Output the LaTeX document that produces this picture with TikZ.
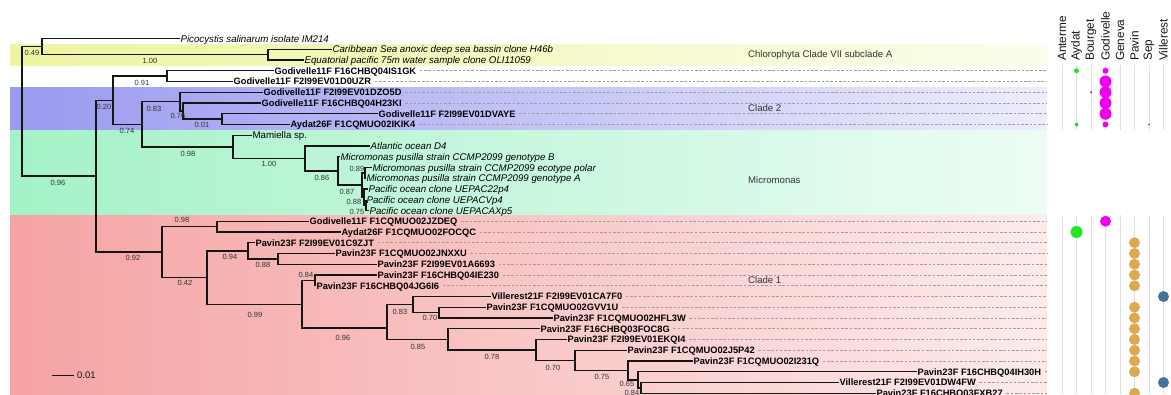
\documentclass[tikz,border=0pt]{standalone}
\usepackage{fontspec}
\setmainfont{Liberation Sans}
\usepackage{tikz}
\usetikzlibrary{calc}

\definecolor{treeink}{HTML}{151515}
\definecolor{suppgray}{HTML}{333333}
\definecolor{chloroband}{HTML}{EEF5A0}
\definecolor{clade2band}{HTML}{9A9AF0}
\definecolor{micromband}{HTML}{A4F2C8}
\definecolor{clade1band}{HTML}{F5A3A3}
\definecolor{aydatgreen}{HTML}{22E622}
\definecolor{godimagenta}{HTML}{F000F0}
\definecolor{pavingold}{HTML}{DCA850}
\definecolor{villblue}{HTML}{42729E}
\definecolor{bourgnavy}{HTML}{2A2A8C}

\newcommand{\envfont}{\fontsize{9.3}{10}\selectfont\bfseries}
\newcommand{\reffont}{\fontsize{9.7}{10}\selectfont\itshape}
\newcommand{\plainfont}{\fontsize{9.7}{10}\selectfont}

\begin{document}
\begin{tikzpicture}[
    x=1pt, y=-1pt,
    branch/.style={draw=treeink, line width=1.4pt},
    envleaf/.style={anchor=west, inner xsep=0.4pt, inner ysep=0pt,
                text height=6.7pt, text depth=0pt, text=black, font=\envfont},
    refleaf/.style={anchor=west, inner xsep=0.4pt, inner ysep=0pt,
                text height=7pt, text depth=0pt, text=black, font=\reffont},
    supp/.style={inner sep=0pt, text=suppgray, font=\fontsize{7.5}{8}\selectfont},
    guide/.style={draw=gray!75, line width=0.6pt, dash pattern=on 2.6pt off 1.7pt,
                shorten <=3pt},
    cladename/.style={anchor=west, inner sep=0pt, text=suppgray,
                font=\fontsize{9.6}{10}\selectfont},
    lake/.style={rotate=90, anchor=west, inner sep=0pt, text=treeink,
                font=\fontsize{11.8}{12}\selectfont},
    colline/.style={draw=black!12, line width=0.6pt},
    dot/.style={circle, draw=none, inner sep=0pt}
]
\useasboundingbox (0,0) rectangle (1171,394);

% Clade bands
\shade[left color=chloroband, right color=chloroband!20] (10,44) rectangle (1047,65);
\shade[left color=clade2band, right color=clade2band!18] (10,87) rectangle (1047,130);
\shade[left color=micromband, right color=micromband!20] (10,130) rectangle (1047,215);
\shade[left color=clade1band, right color=clade1band!22] (10,215) rectangle (1047,394);

\coordinate (dashend) at (1047,0);

% Leaves
\node[refleaf] (pico) at (180,38.5) {Picocystis salinarum isolate IM214};
\node[refleaf] (carib) at (332,49.25) {Caribbean Sea anoxic deep sea bassin clone H46b};
\node[refleaf] (equat) at (304,60) {Equatorial pacific 75m water sample clone OLI11059};
\node[envleaf] (IS1GK) at (274,70.75) {Godivelle11F F16CHBQ04IS1GK};
\node[envleaf] (D0UZR) at (233,81.5) {Godivelle11F F2I99EV01D0UZR};
\node[envleaf] (DZO5D) at (263,92.25) {Godivelle11F F2I99EV01DZO5D};
\node[envleaf] (H23KI) at (261,103) {Godivelle11F F16CHBQ04H23KI};
\node[envleaf] (DVAYE) at (378,113.75) {Godivelle11F F2I99EV01DVAYE};
\node[envleaf] (IKIK4) at (290,124.5) {Aydat26F F1CQMUO02IKIK4};
\node[refleaf, font=\plainfont] (mamiella) at (252,135.25) {Mamiella sp.};
\node[refleaf] (atlD4) at (370,146) {Atlantic ocean D4};
\node[refleaf] (micB) at (340,156.75) {Micromonas pusilla strain CCMP2099 genotype B};
\node[refleaf] (micPolar) at (372,167.5) {Micromonas pusilla strain CCMP2099 ecotype polar};
\node[refleaf] (micA) at (366,178.25) {Micromonas pusilla strain CCMP2099 genotype A};
\node[refleaf] (pac22) at (368,189) {Pacific ocean clone UEPAC22p4};
\node[refleaf] (pacV) at (366,199.75) {Pacific ocean clone UEPACVp4};
\node[refleaf] (pacAX) at (369,210.5) {Pacific ocean clone UEPACAXp5};
\node[envleaf] (JZDEQ) at (309,221.25) {Godivelle11F F1CQMUO02JZDEQ};
\node[envleaf] (FOCQC) at (341,232) {Aydat26F F1CQMUO02FOCQC};
\node[envleaf] (C9ZJT) at (255,242.75) {Pavin23F F2I99EV01C9ZJT};
\node[envleaf] (JNXXU) at (335,253.5) {Pavin23F F1CQMUO02JNXXU};
\node[envleaf] (A6693) at (377,264.25) {Pavin23F F2I99EV01A6693};
\node[envleaf] (IE230) at (377,275) {Pavin23F F16CHBQ04IE230};
\node[envleaf] (JG6I6) at (316,285.75) {Pavin23F F16CHBQ04JG6I6};
\node[envleaf] (CA7F0) at (491,296.5) {Villerest21F F2I99EV01CA7F0};
\node[envleaf] (GVV1U) at (486,307.25) {Pavin23F F1CQMUO02GVV1U};
\node[envleaf] (HFL3W) at (553,318) {Pavin23F F1CQMUO02HFL3W};
\node[envleaf] (FOC8G) at (540,328.75) {Pavin23F F16CHBQ03FOC8G};
\node[envleaf] (EKQI4) at (567,339.5) {Pavin23F F2I99EV01EKQI4};
\node[envleaf] (J5P42) at (627,350.25) {Pavin23F F1CQMUO02J5P42};
\node[envleaf] (I231Q) at (693,361) {Pavin23F F1CQMUO02I231Q};
\node[envleaf] (IH30H) at (917,371.75) {Pavin23F F16CHBQ04IH30H};
\node[envleaf] (DW4FW) at (839,382.5) {Villerest21F F2I99EV01DW4FW};
\node[envleaf] (FXB27) at (876,393.25) {Pavin23F F16CHBQ03FXB27};

% dashed guides to the lake columns
\draw[guide] (IS1GK.east) -- (IS1GK.east -| dashend);
\draw[guide] (D0UZR.east) -- (D0UZR.east -| dashend);
\draw[guide] (DZO5D.east) -- (DZO5D.east -| dashend);
\draw[guide] (H23KI.east) -- (H23KI.east -| dashend);
\draw[guide] (DVAYE.east) -- (DVAYE.east -| dashend);
\draw[guide] (IKIK4.east) -- (IKIK4.east -| dashend);
\draw[guide] (JZDEQ.east) -- (JZDEQ.east -| dashend);
\draw[guide] (FOCQC.east) -- (FOCQC.east -| dashend);
\draw[guide] (C9ZJT.east) -- (C9ZJT.east -| dashend);
\draw[guide] (JNXXU.east) -- (JNXXU.east -| dashend);
\draw[guide] (A6693.east) -- (A6693.east -| dashend);
\draw[guide] (IE230.east) -- (IE230.east -| dashend);
\draw[guide] (JG6I6.east) -- (JG6I6.east -| dashend);
\draw[guide] (CA7F0.east) -- (CA7F0.east -| dashend);
\draw[guide] (GVV1U.east) -- (GVV1U.east -| dashend);
\draw[guide] (HFL3W.east) -- (HFL3W.east -| dashend);
\draw[guide] (FOC8G.east) -- (FOC8G.east -| dashend);
\draw[guide] (EKQI4.east) -- (EKQI4.east -| dashend);
\draw[guide] (J5P42.east) -- (J5P42.east -| dashend);
\draw[guide] (I231Q.east) -- (I231Q.east -| dashend);
\draw[guide] (IH30H.east) -- (IH30H.east -| dashend);
\draw[guide] (DW4FW.east) -- (DW4FW.east -| dashend);
\draw[guide] (FXB27.east) -- (FXB27.east -| dashend);

% Internal nodes
\coordinate (root) at (22,111.3);
\coordinate (pcl) at (42,46.55);
\coordinate (ceq) at (268,54.6);
\coordinate (ingroup) at (96,176.1);
\coordinate (c2top) at (113,100.2);
\coordinate (gpair) at (167,76.1);
\coordinate (c2mic) at (142,124.25);
\coordinate (c2) at (180,101.65);
\coordinate (c2b) at (183,111.05);
\coordinate (c2c) at (222,119.1);
\coordinate (mamic) at (233,146.84);
\coordinate (micro) at (305,158.43);
\coordinate (mic86) at (338,170.86);
\coordinate (mic87) at (362,184.98);
\coordinate (mic89) at (365,172.9);
\coordinate (mic88) at (364,197.05);
\coordinate (mic75) at (366,205.1);
\coordinate (c1) at (162,252);
\coordinate (c1a) at (217,226.6);
\coordinate (c1b) at (207,277.5);
\coordinate (c1c) at (248,250.8);
\coordinate (c1d) at (278,258.9);
\coordinate (c1e) at (302,304.2);
\coordinate (c1f) at (315,280.4);
\coordinate (c1g) at (387,328);
\coordinate (c1h) at (413,304.6);
\coordinate (c1i) at (439,312.6);
\coordinate (c1j) at (448,339.3);
\coordinate (c1k) at (536,349.9);
\coordinate (c1l) at (575,360.3);
\coordinate (c1m) at (628,370.4);
\coordinate (c1n) at (638,379.9);
\coordinate (c1o) at (641,388);

% Branches
\draw[branch] (root) |- (pcl);
\draw[branch] (root) |- (ingroup);
\draw[branch] (pcl) |- (pico.west);
\draw[branch] (pcl) |- (ceq);
\draw[branch] (ceq) |- (carib.west);
\draw[branch] (ceq) |- (equat.west);
\draw[branch] (ingroup) |- (c2top);
\draw[branch] (ingroup) |- (c1);
\draw[branch] (c2top) |- (gpair);
\draw[branch] (c2top) |- (c2mic);
\draw[branch] (gpair) |- (IS1GK.west);
\draw[branch] (gpair) |- (D0UZR.west);
\draw[branch] (c2mic) |- (c2);
\draw[branch] (c2mic) |- (mamic);
\draw[branch] (c2) |- (DZO5D.west);
\draw[branch] (c2) |- (c2b);
\draw[branch] (c2b) |- (H23KI.west);
\draw[branch] (c2b) |- (c2c);
\draw[branch] (c2c) |- (DVAYE.west);
\draw[branch] (c2c) |- (IKIK4.west);
\draw[branch] (mamic) |- (mamiella.west);
\draw[branch] (mamic) |- (micro);
\draw[branch] (micro) |- (atlD4.west);
\draw[branch] (micro) |- (mic86);
\draw[branch] (mic86) |- (micB.west);
\draw[branch] (mic86) |- (mic87);
\draw[branch] (mic87) |- (mic89);
\draw[branch] (mic87) |- (mic88);
\draw[branch] (mic89) |- (micPolar.west);
\draw[branch] (mic89) |- (micA.west);
\draw[branch] (mic88) |- (pac22.west);
\draw[branch] (mic88) |- (mic75);
\draw[branch] (mic75) |- (pacV.west);
\draw[branch] (mic75) |- (pacAX.west);
\draw[branch] (c1) |- (c1a);
\draw[branch] (c1) |- (c1b);
\draw[branch] (c1a) |- (JZDEQ.west);
\draw[branch] (c1a) |- (FOCQC.west);
\draw[branch] (c1b) |- (c1c);
\draw[branch] (c1b) |- (c1e);
\draw[branch] (c1c) |- (C9ZJT.west);
\draw[branch] (c1c) |- (c1d);
\draw[branch] (c1d) |- (JNXXU.west);
\draw[branch] (c1d) |- (A6693.west);
\draw[branch] (c1e) |- (c1f);
\draw[branch] (c1e) |- (c1g);
\draw[branch] (c1f) |- (IE230.west);
\draw[branch] (c1f) |- (JG6I6.west);
\draw[branch] (c1g) |- (c1h);
\draw[branch] (c1g) |- (c1j);
\draw[branch] (c1h) |- (CA7F0.west);
\draw[branch] (c1h) |- (c1i);
\draw[branch] (c1i) |- (GVV1U.west);
\draw[branch] (c1i) |- (HFL3W.west);
\draw[branch] (c1j) |- (FOC8G.west);
\draw[branch] (c1j) |- (c1k);
\draw[branch] (c1k) |- (EKQI4.west);
\draw[branch] (c1k) |- (c1l);
\draw[branch] (c1l) |- (J5P42.west);
\draw[branch] (c1l) |- (c1m);
\draw[branch] (c1m) |- (I231Q.west);
\draw[branch] (c1m) |- (c1n);
\draw[branch] (c1n) |- (IH30H.west);
\draw[branch] (c1n) |- (c1o);
\draw[branch] (c1o) |- (DW4FW.west);
\draw[branch] (c1o) |- (FXB27.west);

% Support values
\node[supp] (spcl) at (32,53) {0.49};
\node[supp] (sceq) at (150,61) {1.00};
\node[supp] (singroup) at (58,183) {0.96};
\node[supp] (sc2top) at (104,107) {0.20};
\node[supp] (sgpair) at (142,83) {0.91};
\node[supp] (sc2mic) at (127,131) {0.74};
\node[supp] (sc2) at (154,109) {0.83};
\node[supp] (sc2b) at (178,116) {0.76};
\node[supp] (sc2c) at (202,125) {0.01};
\node[supp] (smamic) at (188,154) {0.98};
\node[supp] (smicro) at (269,164) {1.00};
\node[supp] (smic86) at (322,178) {0.86};
\node[supp] (smic87) at (347,192) {0.87};
\node[supp] (smic89) at (357,169) {0.89};
\node[supp] (smic88) at (354,202) {0.88};
\node[supp] (smic75) at (357,212) {0.75};
\node[supp] (sc1) at (133,258) {0.92};
\node[supp] (sc1a) at (182,220) {0.98};
\node[supp] (sc1b) at (185,283) {0.42};
\node[supp] (sc1c) at (230,257) {0.94};
\node[supp] (sc1d) at (263,265) {0.88};
\node[supp] (sc1e) at (255,315) {0.99};
\node[supp] (sc1f) at (306,275) {0.84};
\node[supp] (sc1g) at (343,338) {0.96};
\node[supp] (sc1h) at (400,312) {0.83};
\node[supp] (sc1i) at (430,318) {0.70};
\node[supp] (sc1j) at (418,347) {0.85};
\node[supp] (sc1k) at (492,357) {0.78};
\node[supp] (sc1l) at (553,368) {0.70};
\node[supp] (sc1m) at (602,377) {0.75};
\node[supp] (sc1n) at (627,384) {0.65};
\node[supp] (sc1o) at (632,393) {0.84};

% Clade names
\node[cladename] (nchloro) at (748,55) {Chlorophyta Clade VII subclade A};
\node[cladename] (nclade2) at (748,108) {Clade 2};
\node[cladename] (nmicro) at (748,180) {Micromonas};
\node[cladename] (nclade1) at (748,280) {Clade 1};

% Scale bar
\coordinate (sbl) at (52,375);
\coordinate (sbr) at (74,375);
\draw[treeink, line width=0.9pt] (sbl) -- (sbr);
\node[anchor=west, inner sep=0pt, text=treeink, font=\fontsize{9.5}{10}\selectfont] (sbtext) at ([xshift=3pt]sbr) {0.01};

% Lake columns
\node[lake] (hAnt) at (1062,61) {Anterme};
\node[lake] (hAyd) at (1076.5,61) {Aydat};
\node[lake] (hBou) at (1091,61) {Bourget};
\node[lake] (hGod) at (1105.5,61) {Godivelle};
\node[lake] (hGen) at (1120,61) {Geneva};
\node[lake] (hPav) at (1134.5,61) {Pavin};
\node[lake] (hSep) at (1149,61) {Sep};
\node[lake] (hVil) at (1163.5,61) {Villerest};

\coordinate (up0) at (0,65);
\coordinate (up1) at (0,130);
\coordinate (lo0) at (0,215);
\coordinate (lo1) at (0,394);
\draw[colline] (hAnt.west |- up0) -- (hAnt.west |- up1);
\draw[colline] (hAyd.west |- up0) -- (hAyd.west |- up1);
\draw[colline] (hBou.west |- up0) -- (hBou.west |- up1);
\draw[colline] (hGod.west |- up0) -- (hGod.west |- up1);
\draw[colline] (hGen.west |- up0) -- (hGen.west |- up1);
\draw[colline] (hPav.west |- up0) -- (hPav.west |- up1);
\draw[colline] (hSep.west |- up0) -- (hSep.west |- up1);
\draw[colline] (hVil.west |- up0) -- (hVil.west |- up1);
\draw[colline] (hAnt.west |- lo0) -- (hAnt.west |- lo1);
\draw[colline] (hAyd.west |- lo0) -- (hAyd.west |- lo1);
\draw[colline] (hBou.west |- lo0) -- (hBou.west |- lo1);
\draw[colline] (hGod.west |- lo0) -- (hGod.west |- lo1);
\draw[colline] (hGen.west |- lo0) -- (hGen.west |- lo1);
\draw[colline] (hPav.west |- lo0) -- (hPav.west |- lo1);
\draw[colline] (hSep.west |- lo0) -- (hSep.west |- lo1);
\draw[colline] (hVil.west |- lo0) -- (hVil.west |- lo1);

% Occurrence dots
\node[dot, fill=aydatgreen, minimum size=5pt] (aydIS1GK) at (hAyd.west |- IS1GK.west) {};
\node[dot, fill=aydatgreen, minimum size=4pt] (aydIKIK4) at (hAyd.west |- IKIK4.west) {};
\node[dot, fill=aydatgreen, minimum size=12pt] (aydFOCQC) at (hAyd.west |- FOCQC.west) {};
\node[dot, fill=bourgnavy, minimum size=2pt] (bouDZO5D) at (hBou.west |- DZO5D.west) {};
\node[dot, fill=aydatgreen!70!black, minimum size=2pt] (sepIKIK4) at (hSep.west |- IKIK4.west) {};
\node[dot, fill=godimagenta, minimum size=6pt] (godIS1GK) at (hGod.west |- IS1GK.west) {};
\node[dot, fill=godimagenta, minimum size=12pt] (godD0UZR) at (hGod.west |- D0UZR.west) {};
\node[dot, fill=godimagenta, minimum size=12pt] (godDZO5D) at (hGod.west |- DZO5D.west) {};
\node[dot, fill=godimagenta, minimum size=12pt] (godH23KI) at (hGod.west |- H23KI.west) {};
\node[dot, fill=godimagenta, minimum size=12pt] (godDVAYE) at (hGod.west |- DVAYE.west) {};
\node[dot, fill=godimagenta, minimum size=6pt] (godIKIK4) at (hGod.west |- IKIK4.west) {};
\node[dot, fill=godimagenta, minimum size=11pt] (godJZDEQ) at (hGod.west |- JZDEQ.west) {};
\node[dot, fill=pavingold, minimum size=11pt] (pavC9ZJT) at (hPav.west |- C9ZJT.west) {};
\node[dot, fill=pavingold, minimum size=11pt] (pavJNXXU) at (hPav.west |- JNXXU.west) {};
\node[dot, fill=pavingold, minimum size=11pt] (pavA6693) at (hPav.west |- A6693.west) {};
\node[dot, fill=pavingold, minimum size=11pt] (pavIE230) at (hPav.west |- IE230.west) {};
\node[dot, fill=pavingold, minimum size=11pt] (pavJG6I6) at (hPav.west |- JG6I6.west) {};
\node[dot, fill=villblue, minimum size=11pt] (vilCA7F0) at (hVil.west |- CA7F0.west) {};
\node[dot, fill=pavingold, minimum size=11pt] (pavGVV1U) at (hPav.west |- GVV1U.west) {};
\node[dot, fill=pavingold, minimum size=11pt] (pavHFL3W) at (hPav.west |- HFL3W.west) {};
\node[dot, fill=pavingold, minimum size=11pt] (pavFOC8G) at (hPav.west |- FOC8G.west) {};
\node[dot, fill=pavingold, minimum size=11pt] (pavEKQI4) at (hPav.west |- EKQI4.west) {};
\node[dot, fill=pavingold, minimum size=11pt] (pavJ5P42) at (hPav.west |- J5P42.west) {};
\node[dot, fill=pavingold, minimum size=11pt] (pavI231Q) at (hPav.west |- I231Q.west) {};
\node[dot, fill=pavingold, minimum size=11pt] (pavIH30H) at (hPav.west |- IH30H.west) {};
\node[dot, fill=villblue, minimum size=11pt] (vilDW4FW) at (hVil.west |- DW4FW.west) {};
\node[dot, fill=pavingold, minimum size=11pt] (pavFXB27) at (hPav.west |- FXB27.west) {};
\end{tikzpicture}
\end{document}
